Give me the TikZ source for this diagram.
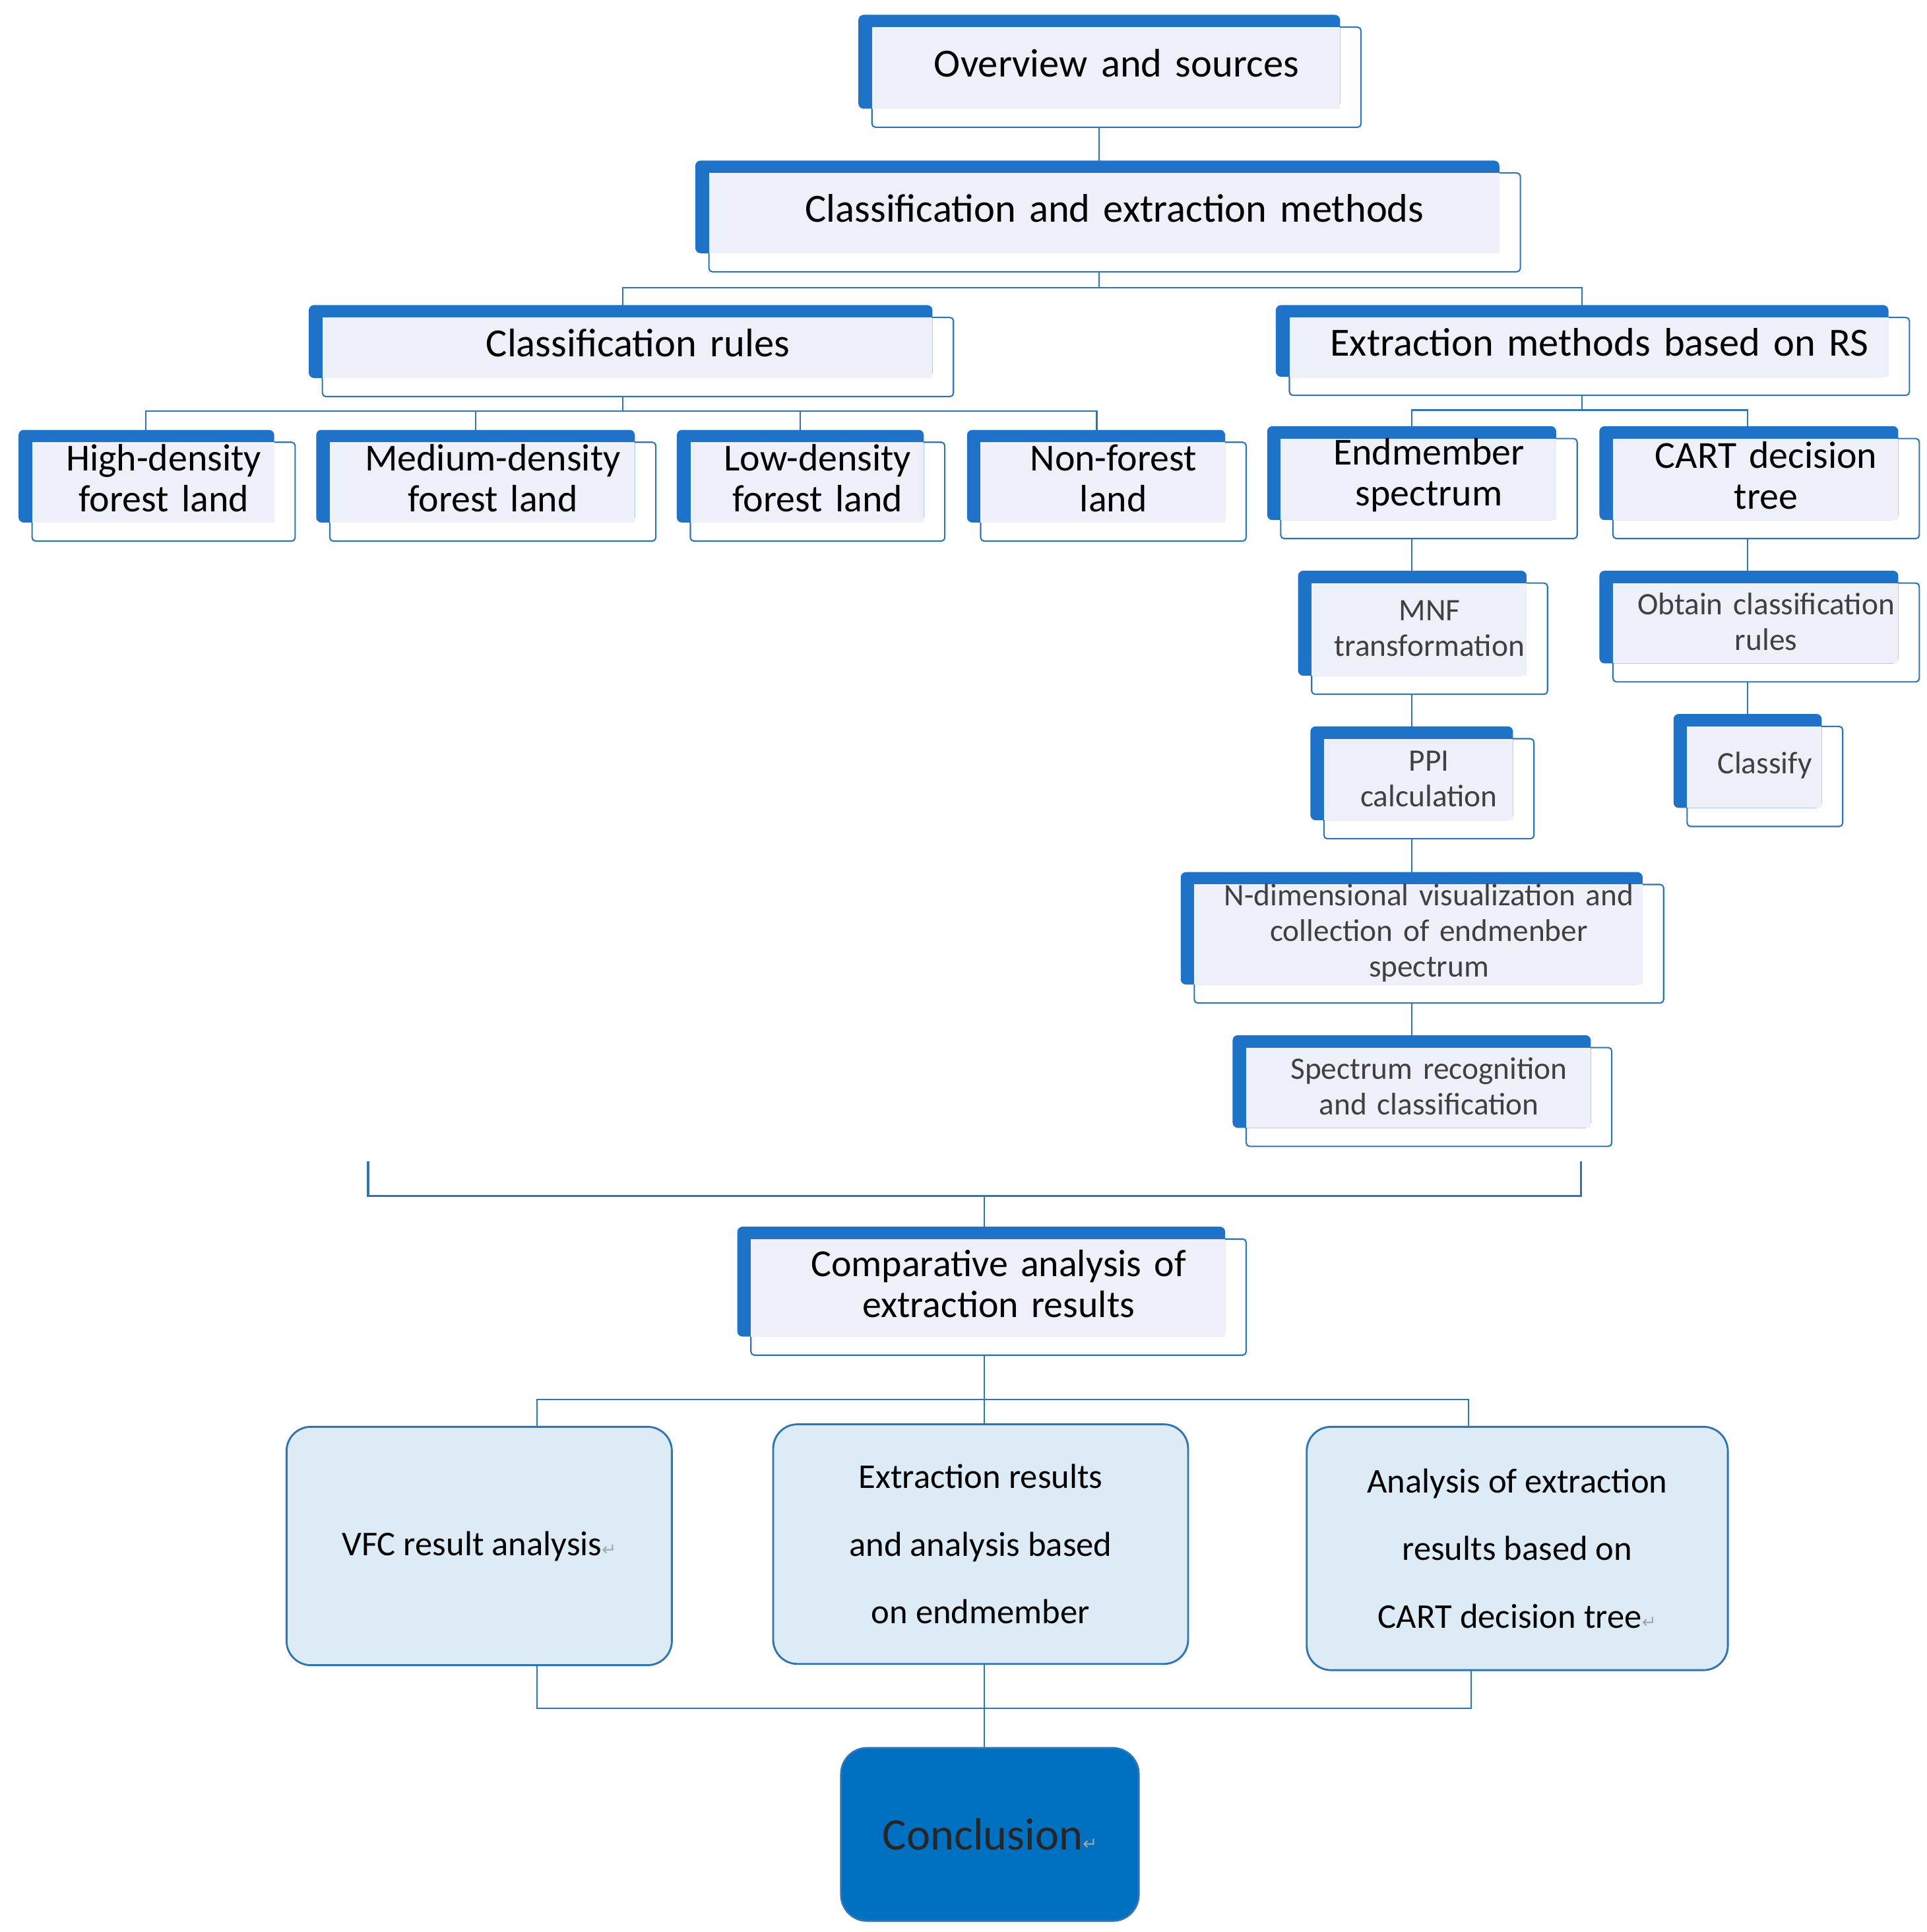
\documentclass[tikz,border=0pt]{standalone}
\usepackage{fontspec}
\setmainfont{Carlito}
\newfontfamily\dejavu{DejaVu Sans}
\usetikzlibrary{fit,calc}
\definecolor{bk}{HTML}{1E73C8}
\definecolor{ln}{HTML}{2E75B6}
\definecolor{lf}{HTML}{EDF0F8}
\definecolor{rf}{HTML}{DDEBF7}
\definecolor{cc}{HTML}{0070C0}
\newcommand\parmark{{\dejavu\fontsize{20}{20}\selectfont\color{gray!70}↵}}
\tikzset{
 x=0.05cm,y=-0.05cm,
 line/.style={draw=ln,line width=1.6pt},
 big/.style={font=\fontsize{46}{47}\selectfont},
 mid/.style={font=\fontsize{44}{47}\selectfont},
 small/.style={font=\fontsize{36}{41}\selectfont,text=black!75},
 rbox/.style={draw=ln,line width=2.2pt,fill=rf,rounded corners=28pt,inner sep=0pt,align=center,font=\fontsize{40}{78}\selectfont},
}
% name, x1,y1,x2,y2, style, text
\newcommand\tbox[7]{%
 \draw[line,fill=white,rounded corners=4pt] (#2,#3) rectangle (#4,#5);
 \fill[bk,rounded corners=6pt] (#2-11,#3-10) rectangle (#4-17,#5-15);
 \fill[lf] (#2,#3) rectangle (#4-17,#5-15);
 \path (#2,#3) coordinate (#1-tl) (#4,#5) coordinate (#1-br);
 \node[fit=(#1-tl)(#1-br),inner sep=0pt,align=center,#6] (#1) {#7};
}
\begin{document}
\begin{tikzpicture}
\useasboundingbox[fill=white] (0,0) rectangle (1560,1564);
% connectors
\draw[line] (890,103) -- (890,233);
\draw[line] (504,257) -- (504,233) -- (1281,233) -- (1281,257);
\draw[line] (504,321) -- (504,333);
\draw[line] (118,358) -- (118,333) -- (888,333) -- (888,358);
\draw[line] (385,333) -- (385,358);
\draw[line] (648,333) -- (648,358);
\draw[line] (1281,320) -- (1281,332);
\draw[line] (1143,355) -- (1143,332) -- (1415,332) -- (1415,355);
\draw[line] (1143,436) -- (1143,848);
\draw[line] (1415,436) -- (1415,588);
\coordinate (bl) at (298,940); \coordinate (br) at (1280,940);
\draw[draw=ln,line width=2.6pt] (bl) -- (298,968) -- (1280,968) -- (br);
\draw[line] (797,968) -- (797,1003);
\draw[line] (797,1097) -- (797,1153);
\draw[line] (435,1155) -- (435,1133) -- (1189,1133) -- (1189,1155);
\draw[line] (435,1348) -- (435,1383) -- (1191,1383) -- (1191,1352);
\draw[line] (797,1347) -- (797,1415);
% boxes
\tbox{ov}{706}{22}{1102}{103}{big}{Overview and sources}
\tbox{cem}{574}{140}{1231}{220}{big}{Classification and extraction methods}
\tbox{cr}{261}{257}{772}{321}{big}{Classification rules}
\tbox{rs}{1044}{257}{1546}{320}{big}{Extraction methods based on RS}
\tbox{hd}{26}{358}{239}{438}{mid}{High-density\\forest land}
\tbox{md}{267}{358}{531}{438}{mid}{Medium-density\\forest land}
\tbox{ld}{559}{358}{765}{438}{mid}{Low-density\\forest land}
\tbox{nf}{794}{358}{1009}{438}{mid}{Non-forest\\land}
\tbox{es}{1037}{355}{1277}{436}{mid}{Endmember\\spectrum}
\tbox{ct}{1306}{355}{1554}{436}{mid}{CART decision\\tree}
\tbox{mnf}{1062}{472}{1253}{562}{small}{MNF\\transformation}
\tbox{ocr}{1306}{472}{1554}{552}{small}{Obtain classification\\rules}
\tbox{ppi}{1072}{598}{1242}{679}{small}{PPI\\calculation}
\tbox{cl}{1366}{588}{1492}{669}{small}{Classify}
\tbox{nd}{967}{716}{1347}{812}{small}{N-dimensional visualization and\\collection of endmenber\\spectrum}
\tbox{sr}{1009}{848}{1305}{928}{small}{Spectrum recognition\\and classification}
\tbox{ca}{608}{1003}{1009}{1097}{mid}{Comparative analysis of\\extraction results}
\node[rbox,minimum width=15.6cm,minimum height=9.65cm] (vfc) at (388,1251.5) {VFC result analysis\parmark};
\node[rbox,minimum width=16.8cm,minimum height=9.7cm] (erb) at (794,1250) {Extraction results\\and analysis based\\on endmember};
\node[rbox,minimum width=17.05cm,minimum height=9.85cm] (acr) at (1228.5,1253.5) {Analysis of extraction\\results based on\\CART decision tree\parmark};
\node[draw=ln,line width=2.2pt,fill=cc,rounded corners=30pt,minimum width=12.05cm,minimum height=7cm,font=\fontsize{52}{60}\selectfont,text=black!85] (con) at (801.5,1485) {Conclusion\parmark};
\end{tikzpicture}
\end{document}
